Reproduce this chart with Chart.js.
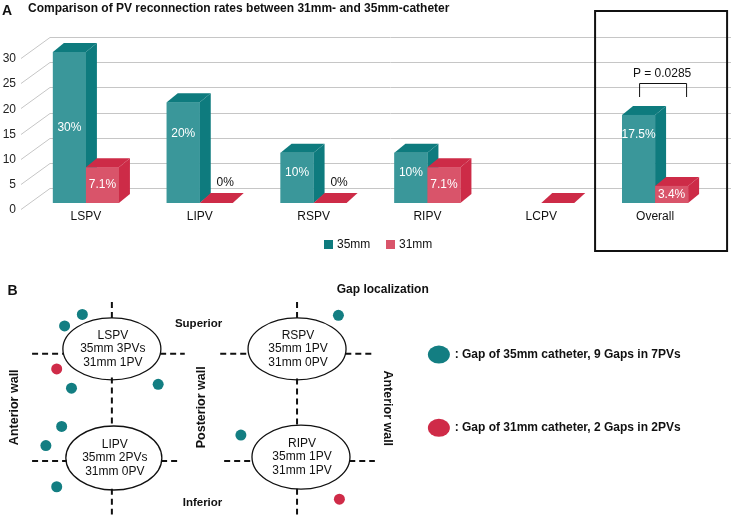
<!DOCTYPE html>
<html>
<head>
<meta charset="utf-8">
<script src="https://cdn.jsdelivr.net/npm/chart.js@4.4.1/dist/chart.umd.min.js"></script>
<style>
  html, body { margin: 0; padding: 0; background: #fff; }
  #wrap { position: relative; width: 731px; height: 520px; }
  #chartA { position: absolute; left: 0; top: 0; }
  #chartB { position: absolute; left: 0; top: 262px; }
</style>
</head>
<body>
<div id="wrap">
  <canvas id="chartA" width="731" height="262"></canvas>
  <canvas id="chartB" width="731" height="258"></canvas>
</div>
<script>
// ---- panel A data ----
const categories = ['LSPV', 'LIPV', 'RSPV', 'RIPV', 'LCPV', 'Overall'];
const seriesNames = ['35mm', '31mm'];
const rate35 = [30, 20, 10, 10, null, 17.5];
const rate31 = [7.1, 0, 0, 7.1, 0, 3.4];
const text35 = ['30%', '20%', '10%', '10%', '', '17.5%'];
const text31 = ['7.1%', '0%', '0%', '7.1%', '', '3.4%'];
const pText = 'P = 0.0285';

// ---- panel B data (gap dots, in figure pixel frame) ----
const gaps35 = [[78, 311], [60, 323], [67, 388], [155, 384], [57, 428], [41, 448], [52, 491], [239, 437], [338, 312]];
const gaps31 = [[52, 368], [339, 504]];
const pvNames = ['LSPV', 'LIPV', 'RSPV', 'RIPV'];
const pv35 = ['35mm 3PVs', '35mm 2PVs', '35mm 1PV', '35mm 1PV'];
const pv31 = ['31mm 1PV', '31mm 0PV', '31mm 0PV', '31mm 1PV'];
const gapLegend = [': Gap of 35mm catheter, 9 Gaps in 7PVs', ': Gap of 31mm catheter, 2 Gaps in 2PVs'];

const FONT = '"Liberation Sans", Arial, Helvetica, sans-serif';
Chart.defaults.font.family = FONT;

const TEAL = '#3a979a', TEAL_D = '#0e7b7e';
const RED = '#d9546a', RED_D = '#cd2b47';
const DX = 11, DY = 9;

const bars3d = {
    id: 'bars3d',
    beforeDatasetsDraw(chart) {
        const ctx = chart.ctx, y = chart.scales.y;
        ctx.save();
        ctx.strokeStyle = '#c6c6c6';
        ctx.lineWidth = 1;
        y.ticks.forEach(t => {
            const py = Math.round(y.getPixelForValue(t.value)) + 0.5;
            ctx.beginPath();
            ctx.moveTo(21, py + 6);
            ctx.lineTo(50, py - 15);
            ctx.lineTo(chart.width, py - 15);
            ctx.stroke();
        });
        ctx.restore();
    },
    afterDatasetsDraw(chart) {
        const ctx = chart.ctx;
        const sets = chart.data.datasets;
        ctx.save();
        for (let i = 0; i < categories.length; i++) {
            sets.forEach((ds, d) => {
                if (ds.data[i] === null) return;
                const el = chart.getDatasetMeta(d).data[i];
                const x0 = el.x - el.width / 2, x1 = el.x + el.width / 2;
                const top = el.y, base = el.base;
                const dy = top === base ? 10 : DY;
                // side
                ctx.fillStyle = ds.darkColor;
                ctx.beginPath();
                ctx.moveTo(x1, top); ctx.lineTo(x1 + DX, top - dy);
                ctx.lineTo(x1 + DX, base - dy); ctx.lineTo(x1, base);
                ctx.closePath(); ctx.fill();
                // top
                ctx.beginPath();
                ctx.moveTo(x0, top); ctx.lineTo(x0 + DX, top - dy);
                ctx.lineTo(x1 + DX, top - dy); ctx.lineTo(x1, top);
                ctx.closePath(); ctx.fill();
                // front
                ctx.fillStyle = ds.backgroundColor;
                ctx.fillRect(x0, top, x1 - x0, base - top);
            });
        }
        // value labels
        ctx.font = '12px ' + FONT;
        ctx.textAlign = 'center';
        ctx.textBaseline = 'middle';
        sets.forEach((ds, d) => {
            const meta = chart.getDatasetMeta(d);
            ds.texts.forEach((txt, i) => {
                if (!txt) return;
                const el = meta.data[i];
                const top = el.y, base = el.base, mid = (top + base) / 2;
                if (ds.data[i] === 0) {
                    ctx.fillStyle = '#111';
                    ctx.fillText(txt, el.x + 9, base - 20);
                } else {
                    ctx.fillStyle = '#fff';
                    const ly = Math.max(Math.min(top + 20, mid), Math.min(mid, 134));
                    ctx.fillText(txt, el.x, ly);
                }
            });
        });
        // legend
        ctx.textAlign = 'left';
        const lx = [324, 386];
        sets.forEach((ds, d) => {
            ctx.fillStyle = d === 0 ? ds.darkColor : ds.backgroundColor;
            ctx.fillRect(lx[d], 240, 9, 9);
            ctx.fillStyle = '#111';
            ctx.fillText(ds.label, lx[d] + 13, 245);
        });
        // titles
        ctx.font = 'bold 14px ' + FONT;
        ctx.fillText('A', 2, 11);
        ctx.font = 'bold 12px ' + FONT;
        ctx.fillText('Comparison of PV reconnection rates between 31mm- and 35mm-catheter', 28, 9);
        // Overall box and p value bracket
        const xs = chart.scales.x;
        const xc = xs.getPixelForValue(5);
        ctx.strokeStyle = '#111';
        ctx.lineWidth = 2;
        ctx.strokeRect(xc - 60, 11, 132, 240);
        ctx.lineWidth = 1;
        ctx.beginPath();
        ctx.moveTo(xc - 15.5, 97); ctx.lineTo(xc - 15.5, 83.5);
        ctx.lineTo(xc + 31.5, 83.5); ctx.lineTo(xc + 31.5, 97);
        ctx.stroke();
        ctx.font = '12px ' + FONT;
        ctx.textAlign = 'center';
        ctx.fillStyle = '#111';
        ctx.fillText(pText, xc + 7, 74);
        ctx.restore();
    }
};

new Chart(document.getElementById('chartA'), {
    type: 'bar',
    data: {
        labels: categories,
        datasets: [
            { label: seriesNames[0], data: rate35, texts: text35, backgroundColor: TEAL, darkColor: TEAL_D },
            { label: seriesNames[1], data: rate31, texts: text31, backgroundColor: RED, darkColor: RED_D }
        ]
    },
    options: {
        responsive: false,
        animation: false,
        events: [],
        layout: { padding: { left: 0, right: 19, top: 52, bottom: 39 } },
        datasets: { bar: { categoryPercentage: 0.58, barPercentage: 1.0 } },
        plugins: { legend: { display: false }, tooltip: { enabled: false } },
        scales: {
            x: {
                grid: { display: false, drawTicks: false },
                border: { display: false },
                ticks: { padding: 6, color: '#111', font: { size: 12 } },
                afterFit: s => { s.height = 20; }
            },
            y: {
                min: 0, max: 30,
                grid: { display: false, drawTicks: false },
                border: { display: false },
                ticks: { stepSize: 5, padding: 13, labelOffset: 7, color: '#222', font: { size: 12 } },
                afterFit: s => { s.width = 29; }
            }
        }
    },
    plugins: [bars3d]
});

// ---- panel B: gap localization diagram ----
const ovals = [[108, 347, 49, 31], [110, 461, 48, 32], [296, 347, 49, 31], [300, 460, 49, 32]];
const dashes = [
    [108, 298, 108, 316], [108, 377, 108, 429], [108, 493, 108, 520],
    [296, 298, 296, 315], [296, 378, 296, 428], [296, 493, 296, 520],
    [27, 352, 59, 352], [157, 352, 182, 352], [218, 352, 247, 352], [345, 352, 375, 352],
    [27, 464, 62, 464], [158, 464, 177, 464], [222, 464, 251, 464], [349, 464, 375, 464]
];
const DOT_TEAL = '#137e82', DOT_RED = '#cf2b48';

const diagram = {
    id: 'diagram',
    beforeDatasetsDraw(chart) {
        const ctx = chart.ctx;
        const X = v => chart.scales.x.getPixelForValue(v);
        const Y = v => chart.scales.y.getPixelForValue(v);
        ctx.save();
        ctx.strokeStyle = '#111';
        ctx.lineWidth = 2;
        ctx.setLineDash([6, 4]);
        dashes.forEach(([a, b, c, d]) => {
            ctx.beginPath();
            ctx.moveTo(X(a), Y(b)); ctx.lineTo(X(c), Y(d));
            ctx.stroke();
        });
        ctx.setLineDash([]);
        ctx.lineWidth = 1.3;
        ctx.fillStyle = '#111';
        ctx.textAlign = 'center';
        ctx.textBaseline = 'middle';
        ovals.forEach(([cx, cy, rx, ry], i) => {
            ctx.beginPath();
            ctx.ellipse(X(cx), Y(cy), rx, ry, 0, 0, Math.PI * 2);
            ctx.stroke();
            ctx.font = '12px ' + FONT;
            ctx.fillText(pvNames[i], X(cx + 1), Y(cy - 14));
            ctx.fillText(pv35[i], X(cx + 1), Y(cy));
            ctx.fillText(pv31[i], X(cx + 1), Y(cy + 14));
        });
        ctx.font = 'bold 11.5px ' + FONT;
        ctx.fillText('Superior', X(196), Y(321));
        ctx.fillText('Inferior', X(200), Y(508));
        ctx.font = 'bold 12px ' + FONT;
        ctx.fillText('Gap localization', X(383), Y(285));
        ctx.font = 'bold 12.5px ' + FONT;
        [[9, 408, -1, 'Anterior wall'], [199, 408, -1, 'Posterior wall'], [388, 409, 1, 'Anterior wall']].forEach(([x, y, dir, t]) => {
            ctx.save();
            ctx.translate(X(x), Y(y));
            ctx.rotate(dir * Math.PI / 2);
            ctx.fillText(t, 0, 0);
            ctx.restore();
        });
        ctx.textAlign = 'left';
        ctx.font = 'bold 14px ' + FONT;
        ctx.fillText('B', X(2), Y(287));
        // legend
        ctx.font = 'bold 12px ' + FONT;
        [[353, DOT_TEAL], [429.5, DOT_RED]].forEach(([ly, col], i) => {
            ctx.fillStyle = col;
            ctx.beginPath();
            ctx.ellipse(X(440), Y(ly), 11, 9, 0, 0, Math.PI * 2);
            ctx.fill();
            ctx.fillStyle = '#111';
            ctx.fillText(gapLegend[i], X(456), Y(ly));
        });
        ctx.restore();
    }
};

new Chart(document.getElementById('chartB'), {
    type: 'scatter',
    data: {
        datasets: [
            { label: '35mm', data: gaps35.map(([x, y]) => ({ x, y })), backgroundColor: DOT_TEAL, borderWidth: 0, pointRadius: 5.5 },
            { label: '31mm', data: gaps31.map(([x, y]) => ({ x, y })), backgroundColor: DOT_RED, borderWidth: 0, pointRadius: 5.5 }
        ]
    },
    options: {
        responsive: false,
        animation: false,
        events: [],
        layout: { padding: 0 },
        plugins: { legend: { display: false }, tooltip: { enabled: false } },
        scales: {
            x: { type: 'linear', min: 0, max: 731, display: false },
            y: { type: 'linear', min: 262, max: 520, reverse: true, display: false }
        }
    },
    plugins: [diagram]
});
</script>
</body>
</html>
